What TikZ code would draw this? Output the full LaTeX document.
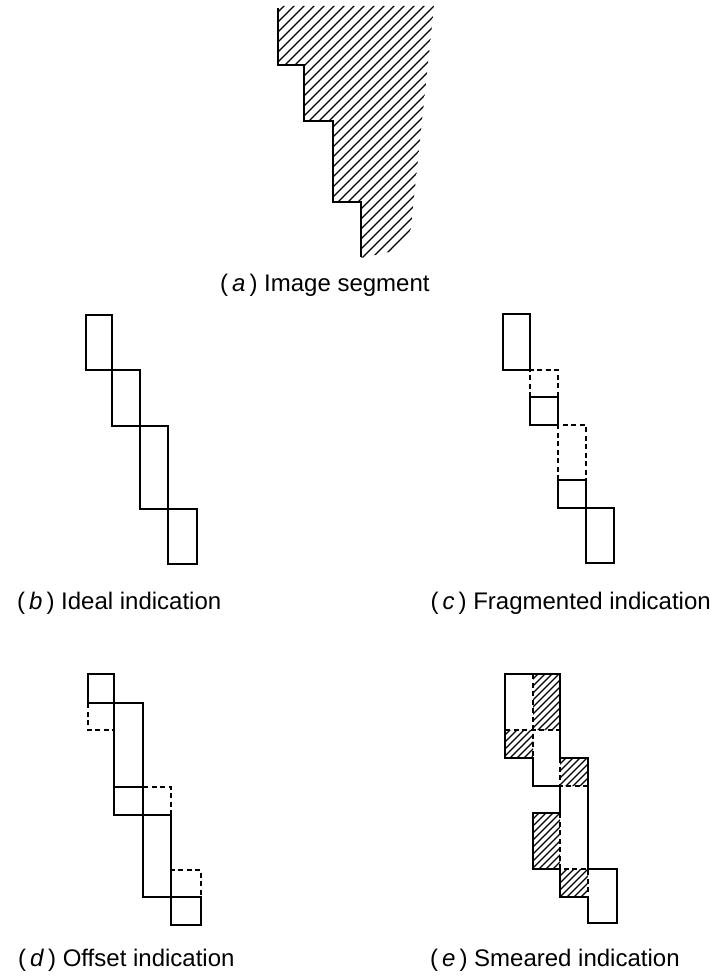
\documentclass[tikz,border=0pt]{standalone}
\usepackage{fontspec}
\setmainfont{Liberation Sans}

\tikzset{
  box/.style={line width=2.1pt},
  dashbox/.style={line width=1.9pt, dash pattern=on 5pt off 3.5pt},
  hatch/.style={line width=1.1pt},
  caption/.style={inner sep=0pt, anchor=base west, font=\fontsize{24}{28}\selectfont}
}

\begin{document}
\begin{tikzpicture}[x=1pt, y=-1pt]
\useasboundingbox (0,0) rectangle (714,976);

% ===== (a) 画像セグメント =====
\begin{scope}
  \clip (278,6) -- (434,6) -- (410,236) -- (398,250) -- (361,258)
        -- (361,202) -- (333,202) -- (333,121) -- (304,121)
        -- (304,65) -- (278,65) -- cycle;
  \foreach \k in {0,...,40}
    \draw[hatch] ({10+10*\k},270) -- ++(300,-300);
\end{scope}
\draw[box] (278,8) |- (304,65) |- (333,121) |- (361,202) -- (361,257);
\node[caption] (capA) at (220,291.5) {(\,\textit{a}\,) Image segment};

% ===== (b) 理想 =====
\draw[box] (86,315) rectangle (112,370);
\draw[box] (112,370) rectangle (140,426);
\draw[box] (140,426) rectangle (168,509);
\draw[box] (168,509) rectangle (197,564);
\node[caption] (capB) at (17,609.5) {(\,\textit{b}\,) Ideal indication};

% ===== (c) 断片化 =====
\draw[box] (503,314) rectangle (530,370);
\draw[box] (530,397) rectangle (558,425);
\draw[box] (558,480) rectangle (586,508);
\draw[box] (586,508) rectangle (614,563);
\draw[dashbox] (530,397) -- (530,370) -- (558,370) -- (558,397);
\draw[dashbox] (558,480) -- (558,425) -- (586,425) -- (586,480);
\node[caption, anchor=base east] (capC) at (711,609.5) {(\,\textit{c}\,) Fragmented indication};

% ===== (d) オフセット =====
\draw[box] (88,703) -- (88,674) -- (114,674) -- (114,815) -- (171,815) -- (171,925)
  -- (201,925) -- (201,897) -- (143,897) -- (143,703) -- cycle;
\draw[box] (114,787) -- (143,787);
\draw[dashbox] (88,703) -- (88,730) -- (114,730);
\draw[dashbox] (143,787) -- (171,787) -- (171,815);
\draw[dashbox] (171,897) -- (171,870) -- (201,870) -- (201,897);
\node[caption] (capD) at (18,966.5) {(\,\textit{d}\,) Offset indication};

% ===== (e) にじみ =====
\begin{scope}
  \clip (533,674) rectangle (560,730)
        (505,730) rectangle (533,758)
        (560,758) rectangle (588,786)
        (533,813) rectangle (560,869)
        (560,869) rectangle (588,897);
  \foreach \k in {0,...,70}
    \draw[hatch] ({100+7*\k},930) -- ++(400,-400);
\end{scope}
\draw[box] (505,674) -- (560,674) -- (560,758) -- (588,758) -- (588,869) -- (617,869)
  -- (617,923) -- (588,923) -- (588,897) -- (560,897) -- (560,869) -- (533,869)
  -- (533,813) -- (560,813) -- (560,786) -- (533,786) -- (533,758) -- (505,758) -- cycle;
\draw[dashbox] (533,674) -- (533,758);
\draw[dashbox] (505,730) -- (560,730);
\draw[dashbox] (560,758) -- (560,786) -- (588,786);
\draw[dashbox] (560,813) -- (560,869) -- (588,869) -- (588,897);
\node[caption] (capE) at (430,966.5) {(\,\textit{e}\,) Smeared indication};

\end{tikzpicture}
\end{document}
